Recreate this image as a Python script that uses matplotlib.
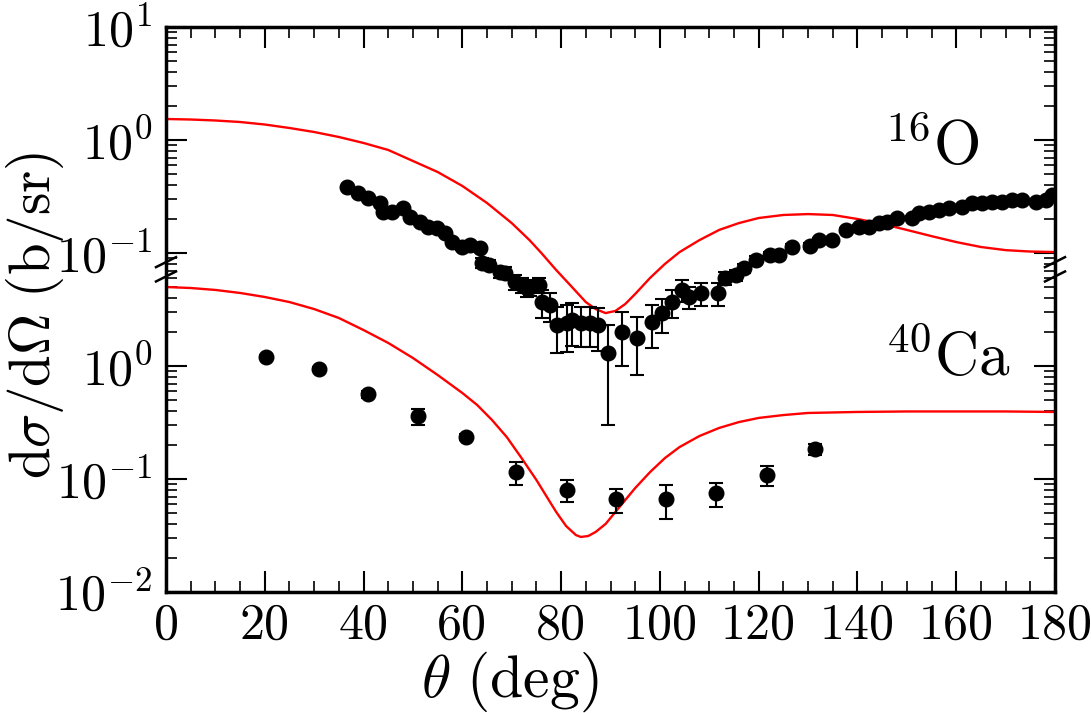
import numpy as np
import matplotlib
matplotlib.use("Agg")
import matplotlib.pyplot as plt
from matplotlib.ticker import FixedLocator, MultipleLocator, LogLocator, NullFormatter
from matplotlib.lines import Line2D

plt.rcParams['mathtext.fontset'] = 'cm'
plt.rcParams['font.family'] = ['cmr10', 'DejaVu Serif']
plt.rcParams['axes.formatter.use_mathtext'] = True

# ---------------- data ----------------
# 16O (plotted with a x100 offset on the shared log axis)
o16_theta = [36.6, 38.8, 40.9, 43.3, 43.9, 45.7, 47.9, 49.4, 51.4, 53.0, 54.8, 56.4,
             58.0, 59.9, 61.5, 63.5, 63.9, 65.5, 67.6, 68.6, 70.6, 72.0, 73.0, 73.6,
             75.6, 76.1, 77.7, 79.1, 81.1, 82.3, 84.1, 85.8, 87.4, 89.4, 92.4, 95.3,
             98.5, 100.5, 102.5, 104.4, 105.8, 108.4, 111.7, 113.1, 115.5, 117.1, 119.5,
             122.2, 124.2, 126.8, 130.3, 132.3, 134.9, 137.7, 140.4, 142.4, 144.4, 146.0,
             148.1, 151.1, 152.5, 154.5, 156.6, 158.6, 161.2, 163.2, 165.3, 167.3, 169.3,
             171.3, 173.3, 176.2, 178.2, 179.4]
o16_xs = [0.386, 0.340, 0.307, 0.277, 0.231, 0.231, 0.250, 0.208, 0.188, 0.170, 0.166, 0.150,
          0.125, 0.113, 0.118, 0.111, 0.0816, 0.0783, 0.0679, 0.0665, 0.0554, 0.0521, 0.0490, 0.0500,
          0.0521, 0.0368, 0.0347, 0.0231, 0.0240, 0.0255, 0.0240, 0.0240, 0.0231, 0.0130, 0.0200, 0.0177,
          0.0245, 0.0294, 0.0368, 0.0471, 0.0408, 0.0443, 0.0443, 0.0601, 0.0639, 0.0736, 0.0867,
          0.0960, 0.0960, 0.113, 0.115, 0.130, 0.130, 0.160, 0.170, 0.170, 0.184, 0.188,
          0.204, 0.204, 0.226, 0.231, 0.240, 0.250, 0.255, 0.277, 0.277, 0.283, 0.283,
          0.294, 0.294, 0.283, 0.294, 0.326]
o16_err = [0.004, 0.004, 0.004, 0.004, 0.004, 0.004, 0.004, 0.004, 0.004, 0.004, 0.004, 0.004,
           0.006, 0.006, 0.006, 0.006, 0.008, 0.008, 0.008, 0.008, 0.008, 0.008, 0.008, 0.008,
           0.008, 0.010, 0.010, 0.010, 0.0107, 0.0106, 0.0093, 0.0093, 0.0095, 0.010, 0.010, 0.0094,
           0.0102, 0.0098, 0.010, 0.0106, 0.009, 0.010, 0.010, 0.008, 0.007, 0.007, 0.007,
           0.007, 0.007, 0.007, 0.007, 0.007, 0.007, 0.007, 0.007, 0.007, 0.007, 0.007,
           0.007, 0.007, 0.007, 0.007, 0.007, 0.007, 0.007, 0.007, 0.007, 0.007, 0.007,
           0.007, 0.007, 0.007, 0.007, 0.007]

o16_th_theta = [0, 5, 10, 15, 20, 25, 30, 35, 40, 45, 50, 55, 60, 65, 70, 73.6, 76, 79, 82,
                85, 87, 89, 91, 93, 95, 98, 101, 104, 108, 112, 116, 120, 125, 130, 135, 140,
                145, 150, 155, 160, 165, 170, 175, 180]
o16_th_xs = [1.534, 1.518, 1.488, 1.443, 1.371, 1.277, 1.177, 1.063, 0.941, 0.816, 0.652,
             0.521, 0.392, 0.277, 0.184, 0.130, 0.100, 0.0707, 0.0511, 0.0368, 0.0319, 0.0294,
             0.0307, 0.0354, 0.0434, 0.0601, 0.0799, 0.102, 0.130, 0.160, 0.184, 0.204, 0.217,
             0.221, 0.217, 0.200, 0.181, 0.160, 0.141, 0.125, 0.113, 0.106, 0.103, 0.102]

# 40Ca
ca_theta = [20.2, 30.9, 40.9, 51.0, 60.7, 70.8, 81.1, 91.2, 101.3, 111.4, 121.6, 131.5]
ca_xs = [1.20, 0.94, 0.565, 0.36, 0.235, 0.115, 0.080, 0.066, 0.066, 0.075, 0.108, 0.184]
ca_err = [0.04, 0.03, 0.04, 0.06, 0.015, 0.027, 0.017, 0.016, 0.022, 0.018, 0.022, 0.022]

ca_th_theta = [0, 5, 10, 15, 20, 25, 30, 35, 40, 45, 50, 55, 60, 63, 66, 69, 72, 75, 77, 79,
               81, 83, 84, 85.5, 87, 89, 91, 93, 95, 98, 101, 104, 108, 112, 116, 120, 125,
               130, 140, 150, 160, 170, 180]
ca_th_xs = [5.00, 4.90, 4.71, 4.43, 4.08, 3.68, 3.19, 2.66, 2.08, 1.60, 1.177, 0.833, 0.577,
            0.452, 0.333, 0.235, 0.153, 0.098, 0.0707, 0.0511, 0.0384, 0.0319, 0.0307, 0.0313,
            0.0340, 0.0400, 0.0511, 0.0652, 0.0832, 0.115, 0.153, 0.192, 0.240, 0.283, 0.319,
            0.347, 0.368, 0.384, 0.392, 0.396, 0.396, 0.396, 0.392]

O16_SCALE = 100.0
ytick_vals = [1e-2, 1e-1, 1e0, 1e1, 1e2, 1e3]
ytick_labels = [r'$10^{-2}$', r'$10^{-1}$', r'$10^{0}$', r'$10^{-1}$', r'$10^{0}$', r'$10^{1}$']
xtick_vals = [0, 20, 40, 60, 80, 100, 120, 140, 160, 180]

# ---------------- figure ----------------
W, H = 1091, 713
fig = plt.figure(figsize=(W / 100, H / 100), dpi=100)
L, R, T, B = 166, 1055, 27, 592
ax = fig.add_axes([L / W, 1 - B / H, (R - L) / W, (B - T) / H])

ax.set_yscale('log')
ax.set_xlim(0, 180)
ax.set_ylim(1e-2, 1e3)

red = '#ff0000'
ax.plot(o16_th_theta, np.array(o16_th_xs) * O16_SCALE, color=red, lw=1.7, zorder=2)
ax.plot(ca_th_theta, ca_th_xs, color=red, lw=1.7, zorder=2)

ekw = dict(fmt='o', color='black', ms=10.5, elinewidth=1.5, capsize=5, capthick=1.5, zorder=3)
ax.errorbar(o16_theta, np.array(o16_xs) * O16_SCALE, yerr=np.array(o16_err) * O16_SCALE, **ekw)
ax.errorbar(ca_theta, ca_xs, yerr=ca_err, **ekw)

# ticks
ax.yaxis.set_major_locator(FixedLocator(ytick_vals))
ax.set_yticklabels(ytick_labels)
ax.yaxis.set_minor_locator(LogLocator(base=10, subs=np.arange(2, 10), numticks=20))
ax.yaxis.set_minor_formatter(NullFormatter())
ax.set_xticks(xtick_vals)
ax.set_xticklabels([str(v) for v in xtick_vals])
ax.xaxis.set_minor_locator(MultipleLocator(5))
ax.tick_params(which='both', direction='in', top=True, right=True, labelsize=36, pad=10)
ax.tick_params(axis='x', pad=8)
ax.tick_params(which='major', length=15, width=1.5)
ax.tick_params(which='minor', length=8, width=1.2)
for s in ax.spines.values():
    s.set_linewidth(2.5)

ax.set_xlabel(r'$\theta\ \mathrm{(deg)}$', fontsize=43)
ax.xaxis.set_label_coords(0.387, -0.101)
ax.set_ylabel(r'$\mathrm{d}\sigma/\mathrm{d}\Omega\ \mathrm{(b/sr)}$', fontsize=41)
ax.yaxis.set_label_coords(-0.113, 0.49)

ax.text(0.915, 0.755, r'$^{16}\mathrm{O}$', transform=ax.transAxes, fontsize=44,
        ha='right', va='baseline')
ax.text(0.95, 0.382, r'$^{40}\mathrm{Ca}$', transform=ax.transAxes, fontsize=44,
        ha='right', va='baseline')

# axis break marks
def frac(v):
    return (np.log10(v) + 2) / 5
dx = 10 / (R - L)
dy = 5 / (B - T)
for yc in (8.3, 6.2):
    for xc in (0.0, 1.0):
        ax.add_line(Line2D([xc - dx, xc + dx], [frac(yc) - dy, frac(yc) + dy],
                           transform=ax.transAxes, color='black', lw=1.8, clip_on=False, zorder=5))

fig.savefig('out.png', dpi=100)
